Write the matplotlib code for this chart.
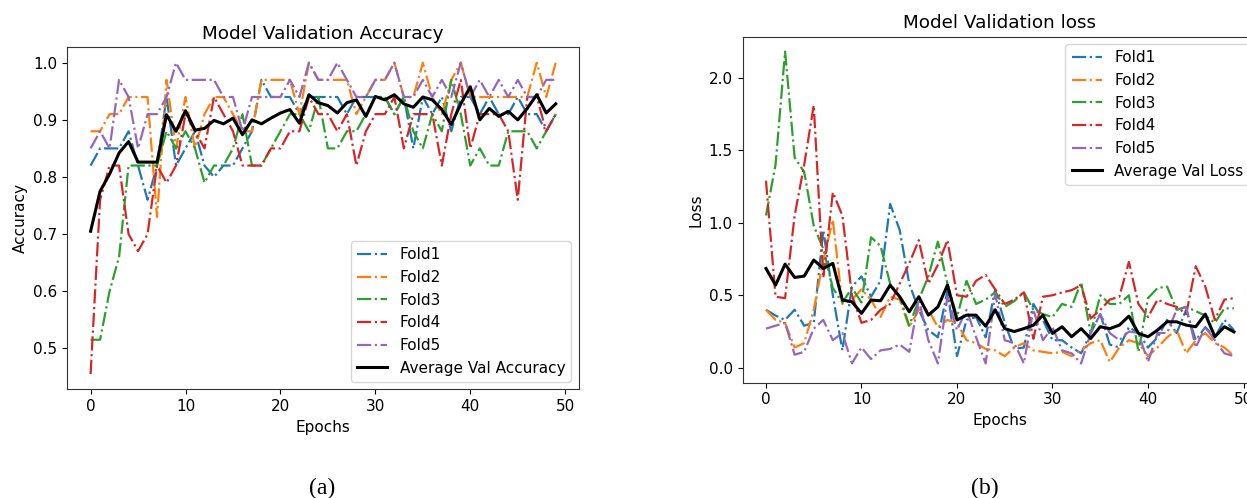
import matplotlib
matplotlib.use("Agg")
import matplotlib.pyplot as plt

epochs = list(range(50))

acc_fold1 = [0.82,0.85,0.85,0.85,0.88,0.82,0.76,0.82,0.94,0.82,0.85,0.88,0.82,0.80,0.82,0.82,0.85,0.88,0.97,0.94,
             0.94,0.94,0.91,0.94,0.94,0.94,0.94,0.91,0.94,0.94,0.94,0.94,0.91,0.94,0.85,0.94,0.91,0.94,0.88,0.94,
             0.94,0.91,0.94,0.91,0.91,0.94,0.91,0.91,0.88,0.91]
acc_fold2 = [0.88,0.88,0.91,0.91,0.94,0.94,0.94,0.73,0.97,0.85,0.94,0.85,0.91,0.94,0.94,0.91,0.88,0.88,0.97,0.97,
             0.97,0.97,0.91,1.00,0.97,0.97,0.97,0.97,0.91,0.94,0.97,0.97,1.00,0.94,0.94,1.00,0.94,0.91,0.97,1.00,
             0.94,0.94,0.94,0.94,0.94,0.94,0.94,1.00,0.94,1.00]
acc_fold3 = [0.515,0.515,0.60,0.66,0.82,0.82,0.82,0.82,0.88,0.85,0.88,0.85,0.79,0.82,0.82,0.85,0.91,0.82,0.82,0.85,
             0.88,0.91,0.91,0.88,0.94,0.85,0.85,0.88,0.88,0.91,0.94,0.94,0.91,0.94,0.88,0.85,0.91,0.88,0.97,0.91,
             0.82,0.85,0.82,0.82,0.88,0.88,0.88,0.85,0.88,0.91]
acc_fold4 = [0.455,0.76,0.82,0.82,0.70,0.67,0.70,0.82,0.79,0.82,0.91,0.88,0.85,0.94,0.91,0.88,0.82,0.82,0.82,0.85,
             0.85,0.88,0.88,0.94,0.91,0.91,0.88,0.91,0.82,0.88,0.91,0.91,0.94,0.85,0.91,0.91,0.91,0.82,0.91,0.97,
             0.85,0.91,0.91,0.91,0.88,0.76,0.94,0.94,0.88,0.91]
acc_fold5 = [0.85,0.88,0.85,0.97,0.94,0.85,0.91,0.91,0.94,1.00,0.97,0.97,0.97,0.97,0.94,0.94,0.88,0.94,0.94,0.94,
             0.94,0.97,0.94,1.00,0.97,0.97,1.00,0.97,0.94,0.94,0.97,0.97,1.00,0.94,0.94,0.97,0.94,0.97,0.94,1.00,
             0.94,0.97,0.94,0.97,0.94,0.97,0.94,0.94,0.97,0.97]
acc_avg = [0.705,0.775,0.805,0.842,0.862,0.826,0.826,0.826,0.909,0.880,0.916,0.882,0.885,0.899,0.893,0.903,0.874,0.900,0.893,0.903,
           0.912,0.918,0.894,0.944,0.930,0.925,0.912,0.930,0.935,0.906,0.941,0.935,0.944,0.928,0.922,0.940,0.935,0.918,0.892,0.928,
           0.958,0.900,0.920,0.906,0.915,0.900,0.920,0.944,0.912,0.928]

loss_fold1 = [0.40,0.36,0.33,0.40,0.29,0.31,0.95,0.50,0.12,0.56,0.63,0.49,0.60,1.13,0.95,0.58,0.40,0.26,0.21,0.53,
              0.08,0.33,0.35,0.21,0.54,0.31,0.13,0.14,0.44,0.33,0.19,0.19,0.14,0.10,0.24,0.37,0.16,0.14,0.28,0.24,
              0.14,0.21,0.33,0.24,0.40,0.19,0.28,0.21,0.33,0.26]
loss_fold2 = [0.40,0.33,0.31,0.14,0.17,0.40,0.74,1.02,0.44,0.47,0.54,0.47,0.35,0.49,0.47,0.28,0.40,0.40,0.28,0.33,
              0.31,0.19,0.17,0.13,0.12,0.08,0.14,0.17,0.12,0.11,0.10,0.11,0.08,0.12,0.17,0.19,0.04,0.14,0.19,0.17,
              0.08,0.14,0.21,0.26,0.10,0.19,0.24,0.17,0.14,0.08]
loss_fold3 = [1.05,1.40,2.18,1.45,1.35,0.98,0.82,0.55,0.45,0.55,0.45,0.90,0.84,0.58,0.49,0.29,0.47,0.63,0.87,0.58,
              0.35,0.60,0.44,0.47,0.52,0.42,0.46,0.52,0.40,0.37,0.35,0.44,0.42,0.59,0.24,0.50,0.44,0.44,0.50,0.11,
              0.48,0.55,0.56,0.40,0.42,0.39,0.36,0.31,0.41,0.41]
loss_fold4 = [1.29,0.49,0.48,1.05,1.40,1.81,0.62,1.21,1.05,0.50,0.31,0.33,0.40,0.44,0.58,0.72,0.88,0.58,0.71,0.88,
              0.50,0.49,0.60,0.64,0.54,0.44,0.47,0.52,0.20,0.49,0.50,0.52,0.535,0.57,0.34,0.40,0.47,0.49,0.73,0.44,
              0.35,0.47,0.44,0.42,0.37,0.70,0.56,0.33,0.47,0.48]
loss_fold5 = [0.27,0.29,0.31,0.09,0.11,0.27,0.33,0.19,0.24,0.03,0.14,0.06,0.12,0.13,0.16,0.11,0.47,0.19,0.03,0.49,
              0.26,0.40,0.21,0.03,0.51,0.19,0.17,0.03,0.40,0.19,0.28,0.12,0.10,0.03,0.24,0.37,0.24,0.19,0.25,0.24,
              0.04,0.24,0.24,0.40,0.42,0.14,0.28,0.19,0.10,0.08]
loss_avg = [0.685,0.57,0.715,0.623,0.632,0.743,0.685,0.72,0.467,0.455,0.375,0.467,0.462,0.57,0.49,0.386,0.49,0.363,0.42,0.57,
            0.33,0.363,0.363,0.287,0.40,0.27,0.25,0.27,0.294,0.363,0.237,0.283,0.214,0.27,0.202,0.283,0.27,0.294,0.356,0.237,
            0.214,0.26,0.317,0.317,0.294,0.283,0.37,0.214,0.283,0.248]

fold_labels = ["Fold1", "Fold2", "Fold3", "Fold4", "Fold5"]
fold_colors = ["#1f77b4", "#ff7f0e", "#2ca02c", "#d62728", "#9467bd"]

plt.rcParams["font.size"] = 11
plt.rcParams["axes.edgecolor"] = "#333333"

fig = plt.figure(figsize=(12.47, 4.98), dpi=100)

# Left: accuracy
ax1 = fig.add_axes([0.054, 0.218, 0.4103, 0.687])
for vals, lab, col in zip([acc_fold1, acc_fold2, acc_fold3, acc_fold4, acc_fold5], fold_labels, fold_colors):
    ax1.plot(epochs, vals, linestyle="-.", color=col, linewidth=1.6, label=lab)
ax1.plot(epochs, acc_avg, color="black", linewidth=2.2, label="Average Val Accuracy")
ax1.set_xlim(-2.45, 51.45)
ax1.set_ylim(0.428, 1.027)
ax1.set_xticks([0, 10, 20, 30, 40, 50])
ax1.set_yticks([0.5, 0.6, 0.7, 0.8, 0.9, 1.0])
ax1.set_title("Model Validation Accuracy", fontsize=13.2)
ax1.set_xlabel("Epochs")
ax1.set_ylabel("Accuracy")
ax1.legend(loc="lower right")

# Right: loss
ax2 = fig.add_axes([0.5955, 0.2315, 0.4128, 0.6948])
for vals, lab, col in zip([loss_fold1, loss_fold2, loss_fold3, loss_fold4, loss_fold5], fold_labels, fold_colors):
    ax2.plot(epochs, vals, linestyle="-.", color=col, linewidth=1.6, label=lab)
ax2.plot(epochs, loss_avg, color="black", linewidth=2.2, label="Average Val Loss")
ax2.set_xlim(-2.45, 51.45)
ax2.set_ylim(-0.103, 2.283)
ax2.set_xticks([0, 10, 20, 30, 40, 50])
ax2.set_yticks([0.0, 0.5, 1.0, 1.5, 2.0])
ax2.set_title("Model Validation loss", fontsize=13.2)
ax2.set_xlabel("Epochs")
ax2.set_ylabel("Loss")
ax2.legend(loc="upper right")

fig.text(0.258, 0.02, "(a)", ha="center", va="center", fontsize=17, family="Liberation Serif")
fig.text(0.790, 0.02, "(b)", ha="center", va="center", fontsize=17, family="Liberation Serif")

fig.savefig("out.png", dpi=100)
